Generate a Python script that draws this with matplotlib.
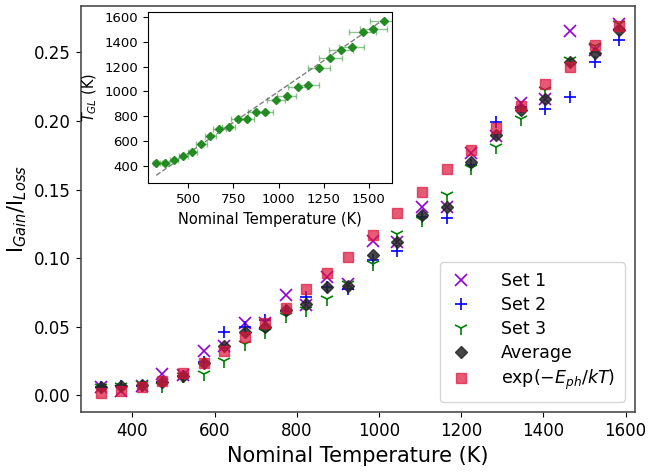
import matplotlib
matplotlib.use('Agg')
import matplotlib.pyplot as plt

# nominal temperatures (K)
temps = [323, 373, 423, 473, 523, 573, 623, 673, 723, 773, 823, 873,
         925, 985, 1045, 1105, 1165, 1225, 1285, 1345, 1405, 1465, 1525, 1585]

set1 = [0.006, 0.003, 0.007, 0.0153, 0.015, 0.0325, 0.0363, 0.0525, 0.053,
        0.0731, 0.066, 0.0865, 0.0815, 0.1125, 0.112, 0.137, 0.1375, 0.1768,
        0.189, 0.2128, 0.216, 0.2657, 0.2514, 0.2706]
set2 = [0.006, 0.007, 0.007, 0.010, 0.014, 0.024, 0.0464, 0.050, 0.0549,
        0.0614, 0.0714, 0.0787, 0.0772, 0.0986, 0.1054, 0.1297, 0.129, 0.168,
        0.199, 0.210, 0.2085, 0.2177, 0.2427, 0.2594]
set3 = [0.006, 0.007, 0.008, 0.007, 0.014, 0.0155, 0.025, 0.0374, 0.0464,
        0.0578, 0.0622, 0.070, 0.081, 0.0955, 0.1176, 0.128, 0.146, 0.1655,
        0.1812, 0.2012, 0.2225, 0.2444, 0.255, 0.271]
average = [0.0063, 0.0068, 0.0075, 0.010, 0.0143, 0.0238, 0.0359, 0.0464,
           0.050, 0.062, 0.0665, 0.0787, 0.0799, 0.1025, 0.1117, 0.1314,
           0.1375, 0.1698, 0.1897, 0.208, 0.2157, 0.2432, 0.2497, 0.2662]
boltzmann = [0.0015, 0.003, 0.006, 0.0107, 0.016, 0.0238, 0.0325, 0.0427,
             0.0529, 0.0634, 0.0773, 0.0889, 0.101, 0.1168, 0.1331, 0.1484,
             0.1647, 0.1788, 0.195, 0.2108, 0.2269, 0.2395, 0.2553, 0.2692]

# inset: fitted temperature vs nominal
t_gl = [425, 420, 444, 481, 509, 576, 643, 694, 711, 778, 780, 834, 837,
        931, 961, 1039, 1055, 1190, 1268, 1338, 1360, 1481, 1503, 1573]
t_err = [20, 20, 22, 24, 26, 29, 31, 34, 36, 39, 41, 44, 46, 49, 52, 55,
         58, 61, 64, 67, 70, 73, 76, 79]

fig = plt.figure(figsize=(6.48, 4.75), dpi=100)
ax = fig.add_axes([0.1245, 0.132, 0.856, 0.855])

ax.plot(temps, set1, 'x', color='darkviolet', ms=8, mew=1.2, ls='none', label='Set 1')
ax.plot(temps, set2, '+', color='blue', ms=9, mew=1.2, ls='none', label='Set 2')
ax.plot(temps, set3, '1', color='green', ms=10, mew=1.2, ls='none', label='Set 3')
ax.plot(temps, average, 'D', color='#262626', alpha=0.85, ms=6, ls='none', label='Average')
ax.plot(temps, boltzmann, 's', color='crimson', alpha=0.7, ms=6.5, ls='none',
        label=r'exp($-E_{ph}/kT$)')

ax.set_xlim(274, 1624)
ax.set_ylim(-0.0124, 0.2837)
ax.set_xticks([400, 600, 800, 1000, 1200, 1400, 1600])
ax.set_yticks([0.0, 0.05, 0.10, 0.15, 0.20, 0.25])
ax.tick_params(labelsize=12)
ax.set_xlabel('Nominal Temperature (K)', fontsize=15)
ax.set_ylabel(r'I$_{Gain}$/I$_{Loss}$', fontsize=15)
for s in ax.spines.values():
    s.set_color('0.3')
    s.set_linewidth(1.2)
ax.legend(loc='lower right', fontsize=12.5, handlelength=1.4, handletextpad=1.6,
          borderpad=0.55, labelspacing=0.35, borderaxespad=0.6)

# inset
ins = fig.add_axes([148.3 / 648, 1 - 183.3 / 475, 243.4 / 648, 171.6 / 475])
ins.plot([temps[0], temps[-1]], [temps[0], temps[-1]], '--', color='gray', lw=1)
ins.errorbar(temps, t_gl, xerr=t_err, fmt='none', ecolor='forestgreen',
             elinewidth=1, capsize=2, alpha=0.5)
ins.plot(temps, t_gl, 'D', color='forestgreen', ms=4, ls='none')
ins.set_xlim(279, 1626)
ins.set_ylim(258, 1645)
ins.set_xticks([500, 750, 1000, 1250, 1500])
ins.set_yticks([400, 600, 800, 1000, 1200, 1400, 1600])
ins.tick_params(labelsize=9.5)
ins.set_xlabel('Nominal Temperature (K)', fontsize=10.5)
ins.set_ylabel(r'$T_{GL}$ (K)', fontsize=10.5)

fig.savefig('out.png', dpi=100)
